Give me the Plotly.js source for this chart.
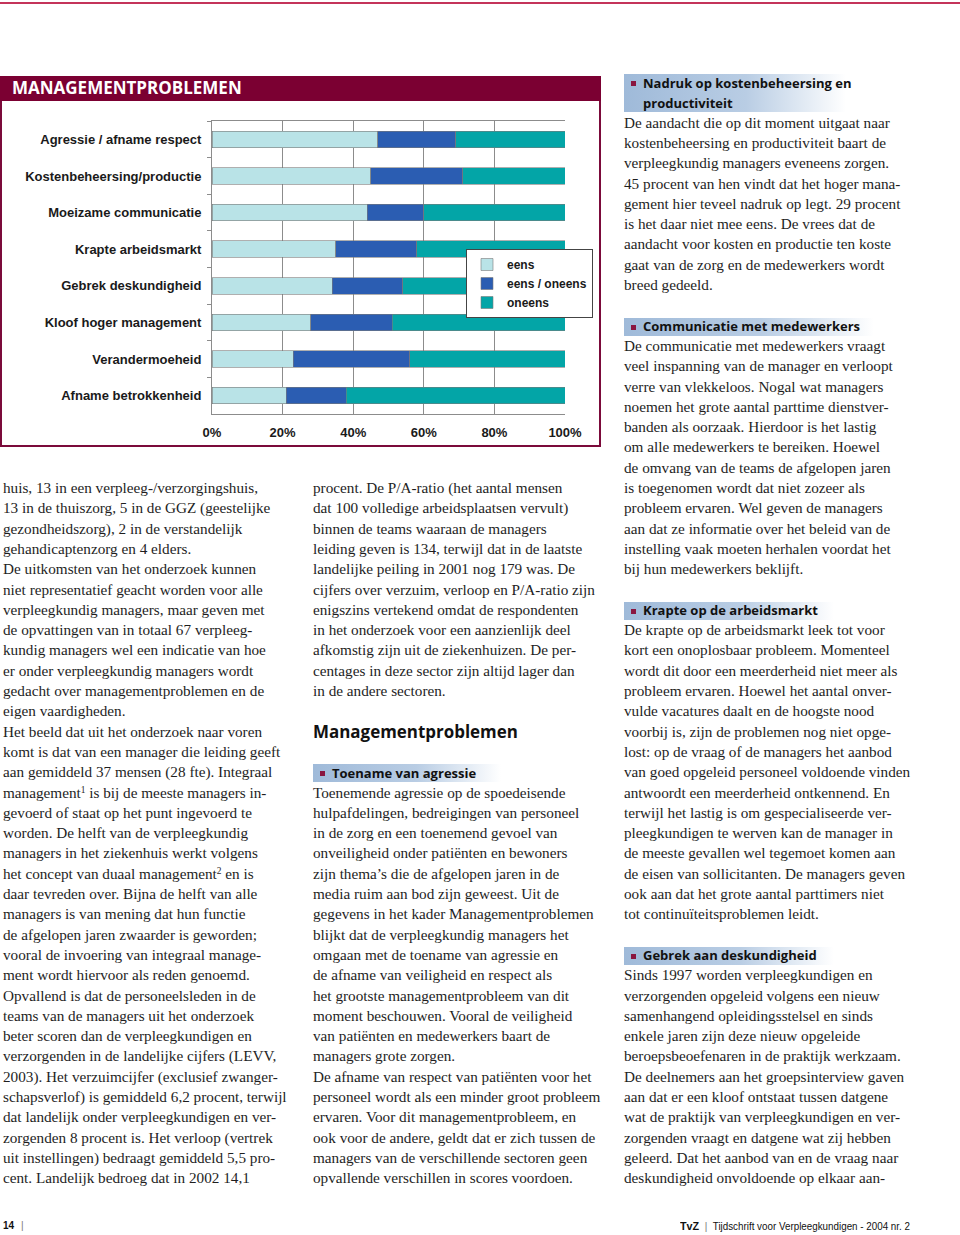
<!DOCTYPE html>
<html>
<head>
<meta charset="utf-8">
<script src="https://cdn.plot.ly/plotly-3.0.1.min.js"></script>
<style>
  html, body { margin:0; padding:0; background:#fff; }
  #page { position:relative; width:960px; height:1235px; overflow:hidden; background:#fff; }
  .ln { position:absolute; white-space:nowrap; font-family:"Liberation Serif","Times New Roman",serif; color:#1e1e1e; line-height:20px; }
  .ln sup { font-size:0.62em; line-height:0; vertical-align:0.55em; }
  .hbar { position:absolute; background:linear-gradient(to right,#9fbad9 0%,#b9cde4 55%,rgba(255,255,255,0) 100%); }
  .hb { position:absolute; width:5px; height:5px; background:#8a1640; }
  .ht { position:absolute; white-space:nowrap; font-family:"Open Sans","DejaVu Sans",sans-serif; font-weight:700; color:#111; line-height:20px; }
  #box { position:absolute; left:0; top:76px; width:597px; height:369px; border:2px solid #7b0a3a; border-top:none; }
  #boxhead { position:absolute; left:0; top:76px; width:601px; height:25px; background:#7b0032; }
  #chart { position:absolute; left:0; top:76px; width:601px; height:373px; }
</style>
</head>
<body>
<div id="page">
  <div style="position:absolute;left:0;top:2px;width:960px;height:2px;background:#c4345a;"></div>
  <div id="box"></div>
  <div id="boxhead"></div>
  <div id="chart"></div>
</div>
<script>
// ---------- chart data ----------
const categories = ['Agressie / afname respect','Kostenbeheersing/productie','Moeizame communicatie','Krapte arbeidsmarkt','Gebrek deskundigheid','Kloof hoger management','Verandermoeheid','Afname betrokkenheid'];
const seriesNames = ['eens','eens / oneens','oneens'];
const eens       = [47,45,44,35,34,28,23,21];
const eensOneens = [22,26,16,23,20,23,33,17];
const oneens     = [31,29,40,42,46,49,44,62];
const xTickVals  = [0,20,40,60,80,100];
const xTickText  = ['0%','20%','40%','60%','80%','100%'];
const chartTitle = 'MANAGEMENTPROBLEMEN';

// ---------- article text ----------
const col1Text = [
 'huis, 13 in een verpleeg-/verzorgingshuis,',
 '13 in de thuiszorg, 5 in de GGZ (geestelijke',
 'gezondheidszorg), 2 in de verstandelijk',
 'gehandicaptenzorg en 4 elders.',
 'De uitkomsten van het onderzoek kunnen',
 'niet representatief geacht worden voor alle',
 'verpleegkundig managers, maar geven met',
 'de opvattingen van in totaal 67 verpleeg-',
 'kundig managers wel een indicatie van hoe',
 'er onder verpleegkundig managers wordt',
 'gedacht over managementproblemen en de',
 'eigen vaardigheden.',
 'Het beeld dat uit het onderzoek naar voren',
 'komt is dat van een manager die leiding geeft',
 'aan gemiddeld 37 mensen (28 fte). Integraal',
 'management<sup>1</sup> is bij de meeste managers in-',
 'gevoerd of staat op het punt ingevoerd te',
 'worden. De helft van de verpleegkundig',
 'managers in het ziekenhuis werkt volgens',
 'het concept van duaal management<sup>2</sup> en is',
 'daar tevreden over. Bijna de helft van alle',
 'managers is van mening dat hun functie',
 'de afgelopen jaren zwaarder is geworden;',
 'vooral de invoering van integraal manage-',
 'ment wordt hiervoor als reden genoemd.',
 'Opvallend is dat de personeelsleden in de',
 'teams van de managers uit het onderzoek',
 'beter scoren dan de verpleegkundigen en',
 'verzorgenden in de landelijke cijfers (LEVV,',
 '2003). Het verzuimcijfer (exclusief zwanger-',
 'schapsverlof) is gemiddeld 6,2 procent, terwijl',
 'dat landelijk onder verpleegkundigen en ver-',
 'zorgenden 8 procent is. Het verloop (vertrek',
 'uit instellingen) bedraagt gemiddeld 5,5 pro-',
 'cent. Landelijk bedroeg dat in 2002 14,1'
];
const col2TextA = [
 'procent. De P/A-ratio (het aantal mensen',
 'dat 100 volledige arbeidsplaatsen vervult)',
 'binnen de teams waaraan de managers',
 'leiding geven is 134, terwijl dat in de laatste',
 'landelijke peiling in 2001 nog 179 was. De',
 'cijfers over verzuim, verloop en P/A-ratio zijn',
 'enigszins vertekend omdat de respondenten',
 'in het onderzoek voor een aanzienlijk deel',
 'afkomstig zijn uit de ziekenhuizen. De per-',
 'centages in deze sector zijn altijd lager dan',
 'in de andere sectoren.'
];
const col2Heading = 'Managementproblemen';
const col2Sub = 'Toename van agressie';
const col2TextB = [
 'Toenemende agressie op de spoedeisende',
 'hulpafdelingen, bedreigingen van personeel',
 'in de zorg en een toenemend gevoel van',
 'onveiligheid onder patiënten en bewoners',
 'zijn thema’s die de afgelopen jaren in de',
 'media ruim aan bod zijn geweest. Uit de',
 'gegevens in het kader Managementproblemen',
 'blijkt dat de verpleegkundig managers het',
 'omgaan met de toename van agressie en',
 'de afname van veiligheid en respect als',
 'het grootste managementprobleem van dit',
 'moment beschouwen. Vooral de veiligheid',
 'van patiënten en medewerkers baart de',
 'managers grote zorgen.',
 'De afname van respect van patiënten voor het',
 'personeel wordt als een minder groot probleem',
 'ervaren. Voor dit managementprobleem, en',
 'ook voor de andere, geldt dat er zich tussen de',
 'managers van de verschillende sectoren geen',
 'opvallende verschillen in scores voordoen.'
];
const col3Sections = [
 {start:0, head:['Nadruk op kostenbeheersing en','productiviteit'], barW:222, body:[
  'De aandacht die op dit moment uitgaat naar',
  'kostenbeheersing en productiviteit baart de',
  'verpleegkundig managers eveneens zorgen.',
  '45 procent van hen vindt dat het hoger mana-',
  'gement hier teveel nadruk op legt. 29 procent',
  'is het daar niet mee eens. De vrees dat de',
  'aandacht voor kosten en productie ten koste',
  'gaat van de zorg en de medewerkers wordt',
  'breed gedeeld.']},
 {start:12, head:['Communicatie met medewerkers'], barW:250, body:[
  'De communicatie met medewerkers vraagt',
  'veel inspanning van de manager en verloopt',
  'verre van vlekkeloos. Nogal wat managers',
  'noemen het grote aantal parttime dienstver-',
  'banden als oorzaak. Hierdoor is het lastig',
  'om alle medewerkers te bereiken. Hoewel',
  'de omvang van de teams de afgelopen jaren',
  'is toegenomen wordt dat niet zozeer als',
  'probleem ervaren. Wel geven de managers',
  'aan dat ze informatie over het beleid van de',
  'instelling vaak moeten herhalen voordat het',
  'bij hun medewerkers beklijft.']},
 {start:26, head:['Krapte op de arbeidsmarkt'], barW:210, body:[
  'De krapte op de arbeidsmarkt leek tot voor',
  'kort een onoplosbaar probleem. Momenteel',
  'wordt dit door een meerderheid niet meer als',
  'probleem ervaren. Hoewel het aantal onver-',
  'vulde vacatures daalt en de hoogste nood',
  'voorbij is, zijn de problemen nog niet opge-',
  'lost: op de vraag of de managers het aanbod',
  'van goed opgeleid personeel voldoende vinden',
  'antwoordt een meerderheid ontkennend. En',
  'terwijl het lastig is om gespecialiseerde ver-',
  'pleegkundigen te werven kan de manager in',
  'de meeste gevallen wel tegemoet komen aan',
  'de eisen van sollicitanten. De managers geven',
  'ook aan dat het grote aantal parttimers niet',
  'tot continuïteitsproblemen leidt.']},
 {start:43, head:['Gebrek aan deskundigheid'], barW:210, body:[
  'Sinds 1997 worden verpleegkundigen en',
  'verzorgenden opgeleid volgens een nieuw',
  'samenhangend opleidingsstelsel en sinds',
  'enkele jaren zijn deze nieuw opgeleide',
  'beroepsbeoefenaren in de praktijk werkzaam.',
  'De deelnemers aan het groepsinterview gaven',
  'aan dat er een kloof ontstaat tussen datgene',
  'wat de praktijk van verpleegkundigen en ver-',
  'zorgenden vraagt en datgene wat zij hebben',
  'geleerd. Dat het aanbod van en de vraag naar',
  'deskundigheid onvoldoende op elkaar aan-']}
];
const footerLeft = '14';
const footerBrand = 'TvZ';
const footerRight = 'Tijdschrift voor Verpleegkundigen - 2004 nr. 2';

// ---------- page text layout ----------
const page = document.getElementById('page');
const Y0 = 83, LH = 20.3;
const cv = document.createElement('canvas').getContext('2d');
function fit(font, samples){
  let s = 0;
  samples.forEach(([t,w]) => { cv.font = font.replace('SIZE','100px'); s += w / cv.measureText(t).width * 100; });
  return s / samples.length;
}
const serifSize = fit('SIZE "Liberation Serif"', [
  ['komt is dat van een manager die leiding geeft',281],
  ['personeel wordt als een minder groot probleem',285],
  ['van goed opgeleid personeel voldoende vinden',285]]);
const headSize = fit('700 SIZE "Open Sans"', [
  ['Nadruk op kostenbeheersing en',212],
  ['Communicatie met medewerkers',214]]);
const bigHeadSize = fit('700 SIZE "Open Sans"', [['Managementproblemen',205]]);

function el(cls, x, y, html, size){
  const d = document.createElement('div');
  d.className = cls; d.style.left = x + 'px'; d.style.top = y + 'px';
  if (size) d.style.fontSize = size + 'px';
  d.innerHTML = html; page.appendChild(d); return d;
}
function lineY(n){ return Y0 + n*LH; }
function body(x, start, lines){
  lines.forEach((t,i) => el('ln', x, lineY(start+i) - 11, t, serifSize));
}
function subhead(x, start, lines, barW){
  const top = lineY(start) - 9, h = (lines.length-1)*LH + 18;
  const b = el('hbar', x, top, ''); b.style.width = barW + 'px'; b.style.height = h + 'px';
  el('hb', x + 7, lineY(start) - 2, '');
  lines.forEach((t,i) => el('ht', x + 19, lineY(start+i) - 10.5, t, headSize));
}
body(3, 20, col1Text);
body(313, 20, col2TextA);
el('ht', 313, lineY(32) - 11, col2Heading, bigHeadSize);
subhead(313, 34, [col2Sub], 188);
body(313, 35, col2TextB);
col3Sections.forEach(s => {
  subhead(624, s.start, s.head, s.barW);
  body(624, s.start + s.head.length, s.body);
});
// footer
const fl = el('ht', 3, 1216, footerLeft + ' <span style="font-weight:400;color:#777;margin-left:4px">|</span>', 10);
fl.style.fontFamily = '"Liberation Sans",sans-serif';
const fr = el('ht', 680, 1216, '<span style="font-weight:700;font-size:11.5px">' + footerBrand + '</span> <span style="font-weight:400;color:#777;margin:0 3px">|</span> <span style="font-weight:400">' + footerRight + '</span>', 10.5);
fr.style.fontFamily = '"Liberation Sans",sans-serif';
fr.style.transformOrigin = 'left center';
fr.style.transform = 'scaleX(' + (230 / fr.getBoundingClientRect().width).toFixed(3) + ')';

// ---------- chart ----------
const colors = ['#b9e3e7','#2b5db2','#03a5a7'];
const values = [eens, eensOneens, oneens];
const traces = values.map((v,i) => ({
  type:'bar', orientation:'h', name:seriesNames[i], x:v, y:categories,
  marker:{color:colors[i], line:{color:'#7a7a7a', width:0.6}},
  hoverinfo:'x+y+name'
}));
const W = 601, H = 373;
const mL = 212, mR = 4, mT = 45, mB = 35;
const plotRight = 565;                 // right edge of the bar area (px in chart div)
const pw = W - mL - mR, ph = H - mT - mB;
const layout = {
  width:W, height:H, barmode:'stack', bargap:0.55,
  margin:{l:mL, r:mR, t:mT, b:mB, pad:0},
  paper_bgcolor:'rgba(0,0,0,0)', plot_bgcolor:'rgba(0,0,0,0)',
  font:{family:'"Liberation Sans", Arial, sans-serif', color:'#1a1a1a'},
  title:{text:'<b>'+chartTitle+'</b>', font:{family:'"Open Sans", sans-serif', size:17, color:'#fff'},
         xref:'container', x:12/W, xanchor:'left', yref:'container', y:1-12.5/H, yanchor:'middle'},
  xaxis:{domain:[0,(plotRight-mL)/pw], range:[0,100], tickvals:xTickVals, ticktext:xTickText, showgrid:true, gridcolor:'#8c8c8c', gridwidth:1,
         showline:true, linecolor:'#8c8c8c', mirror:true, zeroline:false, ticks:'outside', ticklen:6, tickcolor:'rgba(0,0,0,0)',
         tickfont:{size:13, family:'"Liberation Sans", Arial, sans-serif', weight:700, color:'#1a1a1a'}, fixedrange:true},
  yaxis:{categoryorder:'array', categoryarray:categories, autorange:'reversed', showgrid:false,
         showline:true, linecolor:'#8c8c8c', ticks:'outside', ticklen:4, tickcolor:'#8c8c8c', tickson:'boundaries',
         ticklabelstandoff:7,
         tickfont:{size:13, family:'"Liberation Sans", Arial, sans-serif', weight:700, color:'#1a1a1a'}, fixedrange:true},
  legend:{x:(466-mL)/pw, xanchor:'left', y:(mT+ph-(249-76))/ph, yanchor:'top',
          bgcolor:'#fff', bordercolor:'#444', borderwidth:1, traceorder:'normal', itemwidth:30,
          font:{size:12, family:'"Liberation Sans", Arial, sans-serif', weight:700, color:'#1a1a1a'}, tracegroupgap:0},
  showlegend:true
};
Plotly.newPlot('chart', traces, layout, {displayModeBar:false, staticPlot:true});
</script>
</body>
</html>
